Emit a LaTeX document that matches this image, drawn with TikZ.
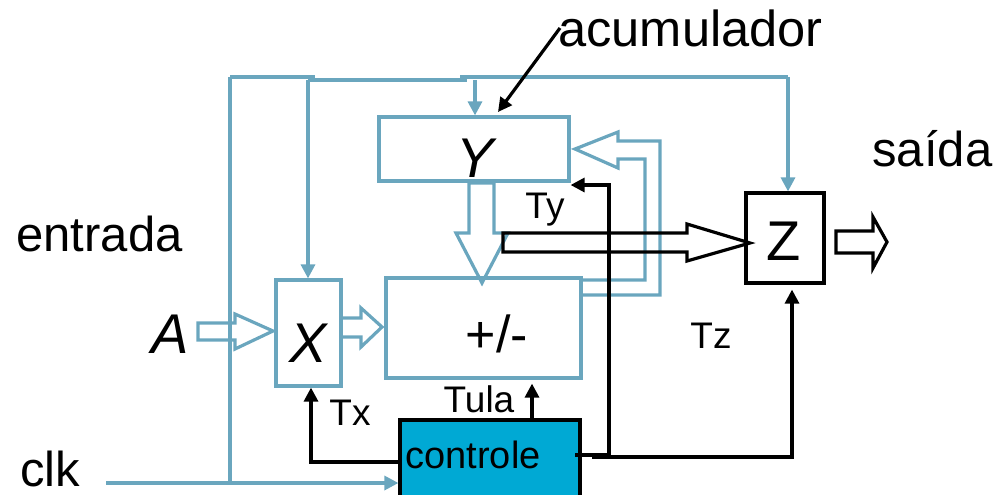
\documentclass[tikz,border=0pt]{standalone}
\usepackage{fontspec}
\setmainfont{Liberation Sans}
\usetikzlibrary{arrows.meta}
\definecolor{wire}{HTML}{6AA6BE}
\definecolor{ctlfill}{HTML}{00A9D4}
\begin{document}
\begin{tikzpicture}[x=0.5pt,y=-0.5pt,line join=miter,
  bw/.style={draw=wire,line width=1.6pt},
  kw/.style={draw=black,line width=1.6pt},
  tipb/.style={-{Triangle[length=7pt,width=7pt]}},
  bluebox/.style={draw=wire,line width=1.6pt,inner sep=0pt},
  blackbox/.style={draw=black,line width=1.6pt,inner sep=0pt},
  txt/.style={inner sep=0pt,anchor=base},
  big/.style={font=\fontsize{28}{28}\selectfont},
  bigit/.style={font=\fontsize{28}{28}\selectfont\itshape},
  mid/.style={font=\fontsize{24.5}{24.5}\selectfont},
  small/.style={font=\fontsize{18.5}{18.5}\selectfont}]
\useasboundingbox (0,0) rectangle (1001,494);
% boxes
\node[bluebox,minimum width=95pt,minimum height=32pt] (Y) at (474,149) {};
\node[bluebox,minimum width=32.5pt,minimum height=53pt] (X) at (308.5,333) {};
\node[bluebox,minimum width=97.5pt,minimum height=50pt] (alu) at (483.5,328) {};
\node[blackbox,minimum width=39pt,minimum height=45pt] (Z) at (785,238) {};
\node[blackbox,fill=ctlfill,minimum width=90pt,minimum height=40pt] (ctl) at (490,460) {};
% texts
\node[txt,anchor=base west,font=\fontsize{25.3}{25.3}\selectfont] (acc) at (558,46) {acumulador};
\node[txt,anchor=base west,mid] (entr) at (16,251) {entrada};
\node[txt,anchor=base west,mid] (sai) at (872,166) {saída};
\node[txt,anchor=base west,mid] (clk) at (20,486) {clk};
\node[txt,bigit] (Alb) at (170,353) {A};
\node[txt,bigit] (Xlb) at (308,362) {X};
\node[txt,bigit] (Ylb) at (475,177) {Y};
\node[txt,big] (Zlb) at (784,260) {Z};
\node[txt,font=\fontsize{26}{26}\selectfont] (pm) at (497,352) {+/-};
\node[txt,small] (Tx) at (350,425) {Tx};
\node[txt,small] (Ty) at (545,218) {Ty};
\node[txt,small] (Tz) at (711,348) {Tz};
\node[txt,small] (Tula) at (479,412) {Tula};
\node[txt,font=\fontsize{19}{19}\selectfont] (ctltxt) at (473,468) {controle};
% blue wires
\coordinate (tl) at (230,77);
\coordinate (tA) at (315,77);
\coordinate (tB) at (308,80);
\coordinate (tC) at (467,80);
\coordinate (tD) at (460,77);
\coordinate (yb) at (475,80);
\coordinate (tr) at (788,77);
\coordinate (bl) at (230,483);
\coordinate (clks) at (106,483);
\draw[bw] (tl) -- (tA);
\draw[bw] (tB) -- (tC);
\draw[bw] (tD) -- (tr);
\draw[bw] (tl) -- (bl);
\draw[bw,tipb] (tB) -- (tB |- X.north);
\draw[bw,tipb] (yb) -- (yb |- Y.north);
\draw[bw,tipb] (tr) -- (tr |- Z.north);
\draw[bw,tipb] (clks) -- (clks -| ctl.west);
% blue hollow arrows
\draw[bw] (198,323) -- (235,323) -- (235,314) -- (273,331) -- (235,349) -- (235,340) -- (198,340) -- cycle;
\draw[bw] (341,318) -- (361,318) -- (361,308) -- (382,327) -- (361,347) -- (361,337) -- (341,337);
\draw[bw] (469,183) -- (469,233) -- (456,233) -- (482,283) -- (508,233) -- (494,233) -- (494,183) -- cycle;
\draw[bw] (581,280) -- (645,280) -- (645,159) -- (618,159) -- (618,168) -- (575,149) -- (618,132) -- (618,141) -- (660,141) -- (660,295) -- (581,295);
% black hollow arrows
\draw[kw] (503,233) -- (687,233) -- (687,224) -- (750,243) -- (687,261) -- (687,252) -- (503,252) -- cycle;
\draw[kw] (836,231) -- (873,231) -- (873,217) -- (887,242) -- (873,268) -- (873,253) -- (836,253) -- cycle;
% black control wires
\coordinate (accs) at (560,28);
\coordinate (acct) at (498,112);
\draw[kw,tipb] (accs) -- (acct);
\coordinate (tys) at (575,455);
\coordinate (tyc) at (609,455);
\coordinate (tyt) at (609,185);
\draw[kw,tipb] (tys) -- (tyc) -- (tyt) -- (tyt -| Y.east);
\coordinate (tzs) at (592,457);
\coordinate (tzc) at (792,457);
\draw[kw,tipb,shorten >=2.5pt] (tzs) -- (tzc) -- (tzc |- Z.south);
\coordinate (txc) at (311,462);
\draw[kw,tipb] (txc -| ctl.west) -- (txc) -- (txc |- X.south);
\coordinate (tuc) at (532,420);
\draw[kw,tipb,shorten >=2pt] (tuc |- ctl.north) -- (tuc |- alu.south);
\end{tikzpicture}
\end{document}
